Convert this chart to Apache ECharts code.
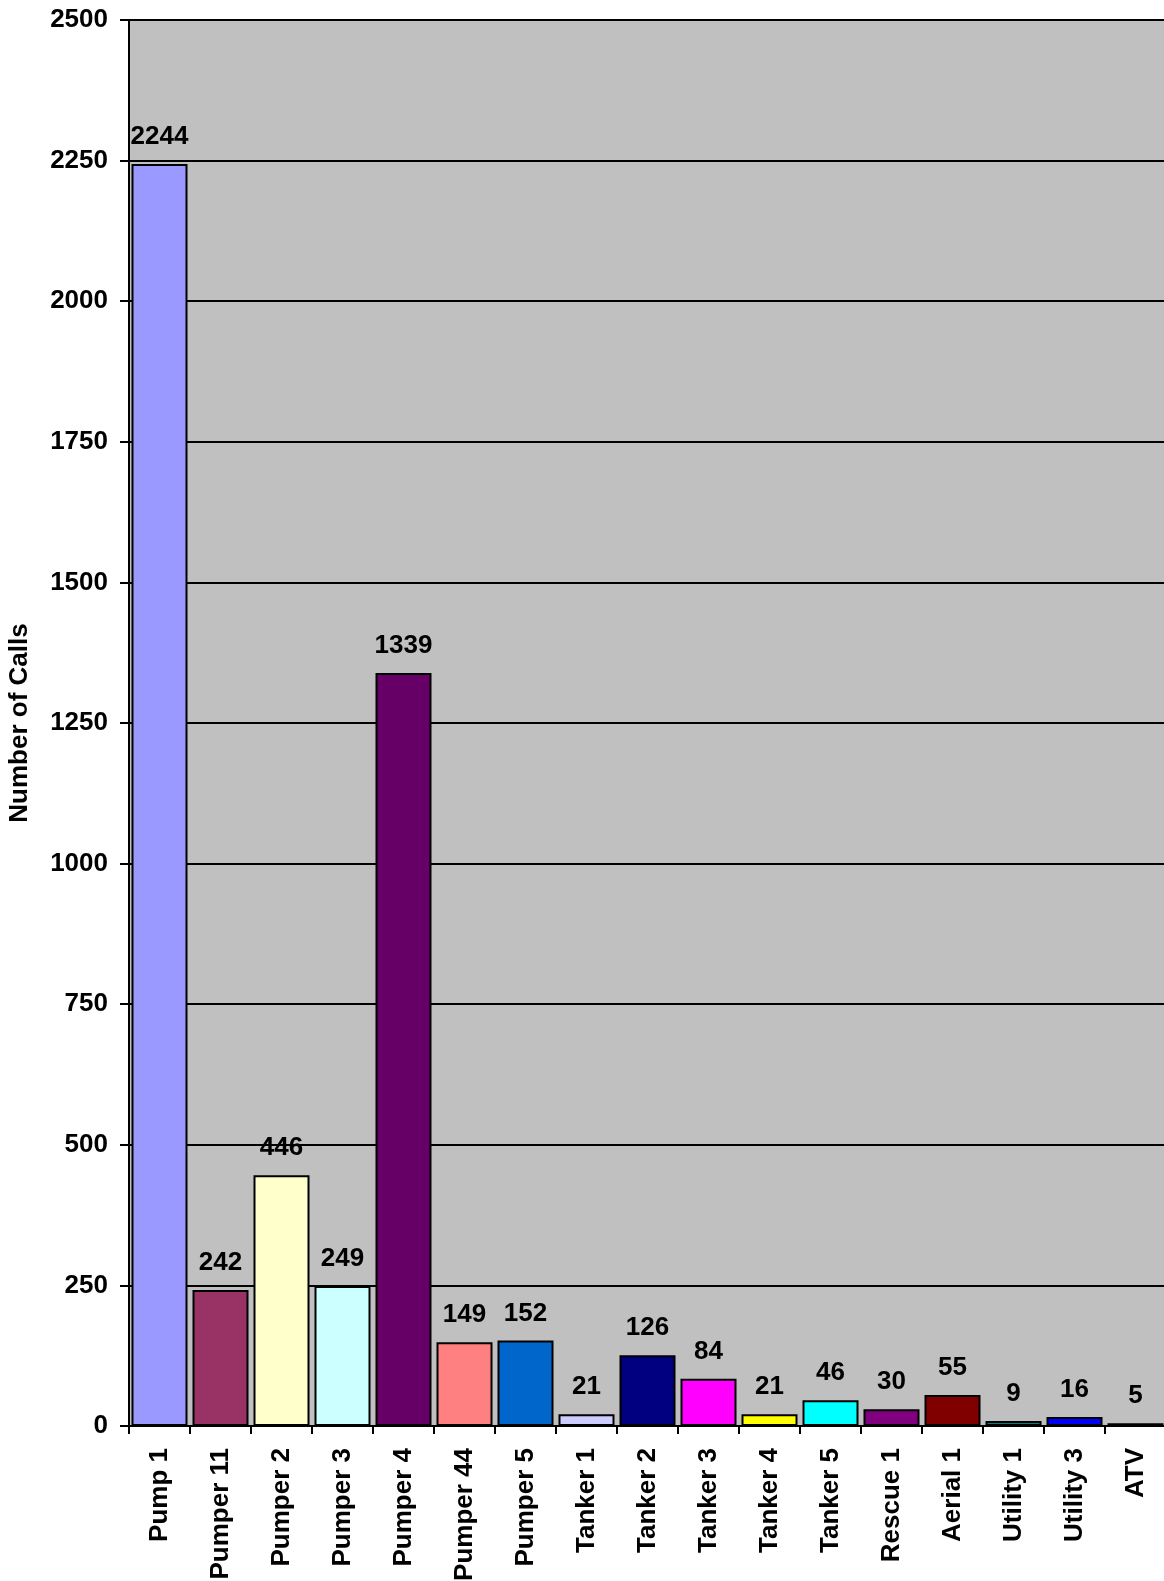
<!DOCTYPE html>
<html>
<head>
<meta charset="utf-8">
<script src="https://cdn.jsdelivr.net/npm/echarts@6/dist/echarts.min.js"></script>
<style>
html,body{margin:0;padding:0;background:#fff;}
#chart{width:1164px;height:1581px;}
</style>
</head>
<body>
<div id="chart"></div>
<script>
const categories = ['Pump 1','Pumper 11','Pumper 2','Pumper 3','Pumper 4','Pumper 44','Pumper 5','Tanker 1','Tanker 2','Tanker 3','Tanker 4','Tanker 5','Rescue 1','Aerial 1','Utility 1','Utility 3','ATV'];
const calls = [2244, 242, 446, 249, 1339, 149, 152, 21, 126, 84, 21, 46, 30, 55, 9, 16, 5];
const barColors = ['#9999FF','#993366','#FFFFCC','#CCFFFF','#660066','#FF8080','#0066CC','#CCCCFF','#000080','#FF00FF','#FFFF00','#00FFFF','#800080','#800000','#008080','#0000FF','#007070'];
const yTicks = [0, 250, 500, 750, 1000, 1250, 1500, 1750, 2000, 2250, 2500];

const font = 'Arial, "Liberation Sans", sans-serif';
const chart = echarts.init(document.getElementById('chart'), null, {renderer:'canvas'});
chart.setOption({
  animation: false,
  backgroundColor: '#ffffff',
  grid: {
    left: 129, top: 20, width: 1037, height: 1406,
    outerBoundsMode: 'none', containLabel: false,
    show: true, backgroundColor: '#C0C0C0', borderWidth: 0
  },
  xAxis: {
    type: 'category',
    data: categories,
    boundaryGap: true,
    axisLine: {show: true, lineStyle: {color: '#000', width: 2}},
    axisTick: {show: true, length: 8, lineStyle: {color: '#000', width: 2}},
    axisLabel: {
      rotate: 90, interval: 0, margin: 22,
      fontFamily: font, fontWeight: 'bold', fontSize: 26, color: '#000'
    }
  },
  yAxis: {
    type: 'value',
    min: yTicks[0], max: yTicks[yTicks.length - 1], interval: 250,
    name: 'Number of Calls',
    nameLocation: 'middle',
    nameRotate: 90,
    nameGap: 96,
    nameTextStyle: {fontFamily: font, fontWeight: 'bold', fontSize: 26, color: '#000'},
    axisLine: {show: true, lineStyle: {color: '#000', width: 2}},
    axisTick: {show: true, length: 9, lineStyle: {color: '#000', width: 2}},
    axisLabel: {
      margin: 21, fontFamily: font, fontWeight: 'bold', fontSize: 26, color: '#000',
      formatter: v => String(v)
    },
    splitLine: {show: true, lineStyle: {color: '#000', width: 2}}
  },
  series: [{
    type: 'bar',
    data: calls.map((v, i) => ({value: v, itemStyle: {color: barColors[i]}})),
    barWidth: 56,
    itemStyle: {borderColor: '#000', borderWidth: 2},
    label: {
      show: true, position: 'top', distance: 14,
      fontFamily: font, fontWeight: 'bold', fontSize: 26, color: '#000'
    }
  }]
});
</script>
</body>
</html>
